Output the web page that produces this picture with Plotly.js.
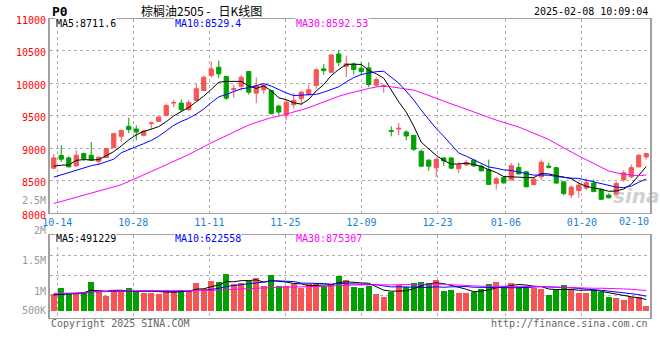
<!DOCTYPE html>
<html><head><meta charset="utf-8">
<script src="https://cdn.plot.ly/plotly-3.0.1.min.js"></script>
<style>html,body{margin:0;padding:0;background:#fff}#chart{width:660px;height:360px}</style>
</head><body><div id="chart"></div>
<script>
// ---------- data ----------
const dates = ['10-11','10-14','10-15','10-16','10-17','10-18','10-21','10-22','10-23','10-24',
 '10-25','10-28','10-29','10-30','10-31','11-01','11-04','11-05','11-06','11-07',
 '11-08','11-11','11-12','11-13','11-14','11-15','11-18','11-19','11-20','11-21',
 '11-22','11-25','11-26','11-27','11-28','11-29','12-02','12-03','12-04','12-05',
 '12-06','12-09','12-10','12-11','12-12','12-13','12-16','12-17','12-18','12-19',
 '12-20','12-23','12-24','12-25','12-26','12-27','12-30','12-31','01-02','01-03',
 '01-06','01-07','01-08','01-09','01-10','01-13','01-14','01-15','01-16','01-17',
 '01-20','01-21','01-22','01-23','01-24','01-27','02-05','02-06','02-07','02-10'];
const openP = [8695,8890,8853,8730,8920,8894,8802,8859,9012,9186,
 9339,9298,9201,9381,9416,9508,9697,9697,9595,9738,
 9891,10122,10249,10106,9902,9957,10183,9850,9902,9891,
 9651,9508,9672,9764,9830,9968,10224,10172,10454,10260,
 10301,10234,10240,9973,9953,9273,9298,9252,9201,8956,
 8818,8700,8853,8853,8687,8746,8818,8726,8675,8460,
 8549,8515,8706,8641,8442,8561,8726,8703,8485,8281,
 8350,8388,8465,8368,8281,8291,8518,8561,8715,8868];
const highP = [8910,9048,8879,8971,8936,9098,8874,9009,9232,9286,
 9473,9355,9278,9416,9500,9692,9749,9753,9749,9994,
 10122,10336,10352,10106,9979,10132,10183,10095,9994,9902,
 9672,9749,9850,9891,9979,10240,10301,10444,10516,10428,
 10326,10326,10326,10095,9994,9339,9390,9278,9201,8986,
 8833,8859,8859,8859,8792,8818,8833,8752,8828,8561,
 8572,8772,8776,8653,8557,8828,8776,8715,8485,8434,
 8485,8537,8521,8384,8307,8485,8664,8752,8910,8930];
const lowP = [8680,8792,8706,8726,8802,8810,8741,8848,9002,9098,
 9236,9124,9186,9289,9408,9493,9635,9559,9577,9730,
 9884,10095,10080,9746,9779,9891,9830,9697,9841,9523,
 9508,9431,9611,9661,9815,9918,10132,10168,10264,10095,
 10137,10137,9942,9942,9856,9186,9201,9124,8960,8715,
 8653,8561,8730,8680,8623,8726,8715,8653,8434,8368,
 8457,8511,8603,8399,8434,8511,8690,8457,8276,8230,
 8239,8357,8334,8204,8230,8276,8485,8537,8706,8828];
const closeP = [8853,8833,8715,8894,8844,8818,8864,8997,9227,9278,
 9289,9252,9267,9390,9482,9661,9707,9595,9707,9918,
 10095,10224,10148,9773,9918,10095,9865,9968,9968,9534,
 9559,9712,9738,9865,9902,10209,10198,10439,10326,10301,
 10214,10183,9983,10060,9964,9262,9309,9190,8986,8726,
 8726,8828,8807,8695,8746,8782,8730,8653,8445,8531,
 8469,8733,8606,8408,8526,8787,8710,8465,8304,8403,
 8434,8472,8334,8215,8239,8460,8623,8703,8894,8920];
const volume = [729000,1023000,729000,729000,800000,1276000,876000,654000,920000,832000,
 1009000,876000,800000,800000,756000,920000,845000,920000,876000,1245000,
 978000,1320000,1276000,1645000,1200000,1245000,1320000,1467000,1098000,1587000,
 1098000,1098000,1174000,996000,1200000,1245000,1098000,1174000,1543000,1365000,
 1067000,1023000,1098000,756000,623000,832000,1143000,1067000,1245000,1276000,
 1245000,1365000,876000,920000,800000,800000,832000,978000,1200000,1276000,
 1054000,1245000,1067000,1054000,1023000,978000,698000,952000,1143000,952000,
 800000,800000,907000,832000,609000,565000,476000,609000,609000,209000];
// moving-average values before a full window exists
const ma5Lead = [8725,8741,8745,8815];
const ma10Lead = [8557,8592,8634,8672,8703,8733,8756,8795,8833];
const ma30Lead = [8150,8183,8216,8249,8282,8315,8348,8385,8410,8440,
 8490,8545,8595,8645,8695,8745,8800,8850,8905,8965,
 9030,9085,9140,9195,9247,9305,9360,9400,9439];
const volMa5Lead = [700000,720000,750000,780000];
const volMa10Lead = [740000,740000,750000,750000,760000,840000,850000,860000,860000];
const volMa30Lead = [770000,770000,775000,780000,790000,840000,860000,870000,875000,876000,
 876000,876000,876000,876000,876000,876000,876000,876000,876000,876000,
 880000,900000,920000,930000,950000,970000,990000,1000000,1000000];
const tickDates = ['10-14','10-28','11-11','11-25','12-09','12-23','01-06','01-20'];
const lastTickDate = '02-10';
const yTicks = [8000,8500,9000,9500,10000,10500,11000];
const yTickText = ['8000','8500','9000','9500','10000','10500','11000'];
const volAxisLabels = ['2M','1.5M','1M','500K'];
const priceMaText = ['MA5:8711.6','MA10:8529.4','MA30:8592.53'];
const volMaText = ['MA5:491229','MA10:622558','MA30:875307'];
const titleText = '棕榈油2505\u00a0-\u00a0\u00a0\u00a0日K线图';
const symbolText = 'P0';
const stampText = '2025-02-08 10:09:04';

// ---------- styling ----------
const UP = '#F65555', DOWN = '#00A000';
const MA_COLORS = ['#000000','#0000FF','#FF00FF'];
const MONO = 'DejaVu Sans Mono';
const GRID = '#b0b0b0', AXIS = '#a0a0a0';

function rolling(arr, n, lead){
  return arr.map((v,i)=> i < n-1 ? lead[i] : arr.slice(i-n+1,i+1).reduce((a,b)=>a+b,0)/n);
}
const idx = dates.map((d,i)=>i);
const ma = [rolling(closeP,5,ma5Lead), rolling(closeP,10,ma10Lead), rolling(closeP,30,ma30Lead)];
const vma = [rolling(volume,5,volMa5Lead), rolling(volume,10,volMa10Lead), rolling(volume,30,volMa30Lead)];
const volColors = idx.map(i => closeP[i] >= openP[i] ? UP : DOWN);

// grid positions (sina's grid drifts slightly vs candle slots)
const gridPos = d => { const i = dates.indexOf(d); return i - 0.53 + (i-1)*0.0138; };
const tickvals = tickDates.map(gridPos);

const traces = [
  {type:'candlestick', x: idx, open: openP, high: highP, low: lowP, close: closeP,
   xaxis:'x', yaxis:'y', whiskerwidth:0, hoverinfo:'skip',
   increasing:{line:{color:UP,width:1}, fillcolor:UP},
   decreasing:{line:{color:DOWN,width:1}, fillcolor:DOWN}},
  ...ma.map((m,k)=>({type:'scatter', mode:'lines', x: idx, y: m, xaxis:'x', yaxis:'y',
   line:{color:MA_COLORS[k], width:1}, hoverinfo:'skip'})),
  {type:'bar', x: idx, y: volume, xaxis:'x2', yaxis:'y2', width:0.8,
   marker:{color: volColors, line:{width:0}}, hoverinfo:'skip'},
  ...vma.map((m,k)=>({type:'scatter', mode:'lines', x: idx, y: m, xaxis:'x2', yaxis:'y2',
   line:{color:MA_COLORS[k], width:1}, hoverinfo:'skip'}))
];

const H = 360;
const py = p => 1 - p / H;           // pixel row -> paper y
const px = p => (p - 50) / 600;      // pixel col -> paper x
const ann = (text, x, y, xanchor, color, size, extra) => Object.assign({
  text, x, y, xref:'paper', yref:'paper', xanchor, yanchor:'middle', showarrow:false,
  font:{family:MONO, size:size||10, color:color||'#000'}, borderpad:0}, extra||{});

const annotations = [
  ann(symbolText, px(51), py(11), 'left', '#000', 13, {font:{family:MONO,size:13,color:'#000',weight:'bold'}}),
  ann(titleText, px(140), py(10), 'left', '#000', 12, {font:{family:'Noto Sans CJK SC',size:12,color:'#000'}}),
  ann(stampText, px(649), py(11), 'right', '#000', 10),
  ann(priceMaText[0], px(55), py(23.7), 'left', MA_COLORS[0], 10, {bgcolor:'#fff'}),
  ann(priceMaText[1], px(174), py(23.7), 'left', MA_COLORS[1], 10, {bgcolor:'#fff'}),
  ann(priceMaText[2], px(295), py(23.7), 'left', MA_COLORS[2], 10, {bgcolor:'#fff'}),
  ann(volMaText[0], px(55), py(238.5), 'left', MA_COLORS[0], 10, {bgcolor:'#fff'}),
  ann(volMaText[1], px(174), py(238.5), 'left', MA_COLORS[1], 10, {bgcolor:'#fff'}),
  ann(volMaText[2], px(295), py(238.5), 'left', MA_COLORS[2], 10, {bgcolor:'#fff'}),
  ann(lastTickDate, px(650), py(221.3), 'right', '#1a7fd6', 10),
  ann('2.5M', px(46.5), py(200.7), 'right', '#999', 10),
  ann(volAxisLabels[0], px(46.5), py(230.5), 'right', '#999', 10),
  ann(volAxisLabels[1], px(46.5), py(260.5), 'right', '#999', 10),
  ann(volAxisLabels[2], px(46.5), py(291.5), 'right', '#999', 10),
  ann(volAxisLabels[3], px(46.5), py(310.7), 'right', '#999', 10),
  ann('Copyright 2025 SINA.COM', px(50), py(323.5), 'left', '#666', 10),
  ann('http://finance.sina.com.cn', px(649), py(323.5), 'right', '#666', 10),
  ann('sina', px(636), py(196), 'center', 'rgba(170,170,170,0.55)', 20,
      {font:{family:'DejaVu Sans', size:20, color:'rgba(170,170,170,0.55)', style:'italic', weight:'bold'}})
];

const xBase = {range:[-0.5,79.5], tickvals, ticktext: tickDates, ticks:'', showgrid:true,
  gridcolor:GRID, griddash:'dot', gridwidth:1, showline:true, mirror:true, linecolor:AXIS, linewidth:1,
  zeroline:false, fixedrange:true};
const layout = {
  width:660, height:360, margin:{l:50,r:10,t:0,b:0}, paper_bgcolor:'#fff', plot_bgcolor:'#fff',
  showlegend:false, boxgap:0.2, bargap:0, hovermode:false,
  xaxis: Object.assign({}, xBase, {anchor:'y', domain:[0,1], rangeslider:{visible:false},
    tickfont:{family:MONO,size:10,color:'#1a7fd6'}, automargin:false}),
  yaxis: {anchor:'x', domain:[py(213.3), py(18.5)], range:[8000,11000], tickvals:yTicks, ticktext:yTickText,
    ticks:'', showgrid:true, gridcolor:GRID, griddash:'dot', showline:true, mirror:true,
    linecolor:AXIS, linewidth:2, zeroline:false, fixedrange:true, automargin:false,
    tickfont:{family:MONO,size:10,color:'#ff0000'}, ticklabelshift:2},
  xaxis2: Object.assign({}, xBase, {anchor:'y2', domain:[0,1], showticklabels:false, matches:'x'}),
  yaxis2: {anchor:'x2', domain:[py(318), py(235)], range:[-(318-310.7)/22.5*1e6, (310.7-235)/22.5*1e6],
    tickvals:[697800,1586700,2475600], showticklabels:false, ticks:'', showgrid:true, gridcolor:GRID,
    griddash:'dot', showline:true, mirror:true, linecolor:AXIS, linewidth:2, zeroline:false, fixedrange:true},
  annotations
};
Plotly.newPlot('chart', traces, layout, {staticPlot:true, displayModeBar:false});
</script>
</body></html>
